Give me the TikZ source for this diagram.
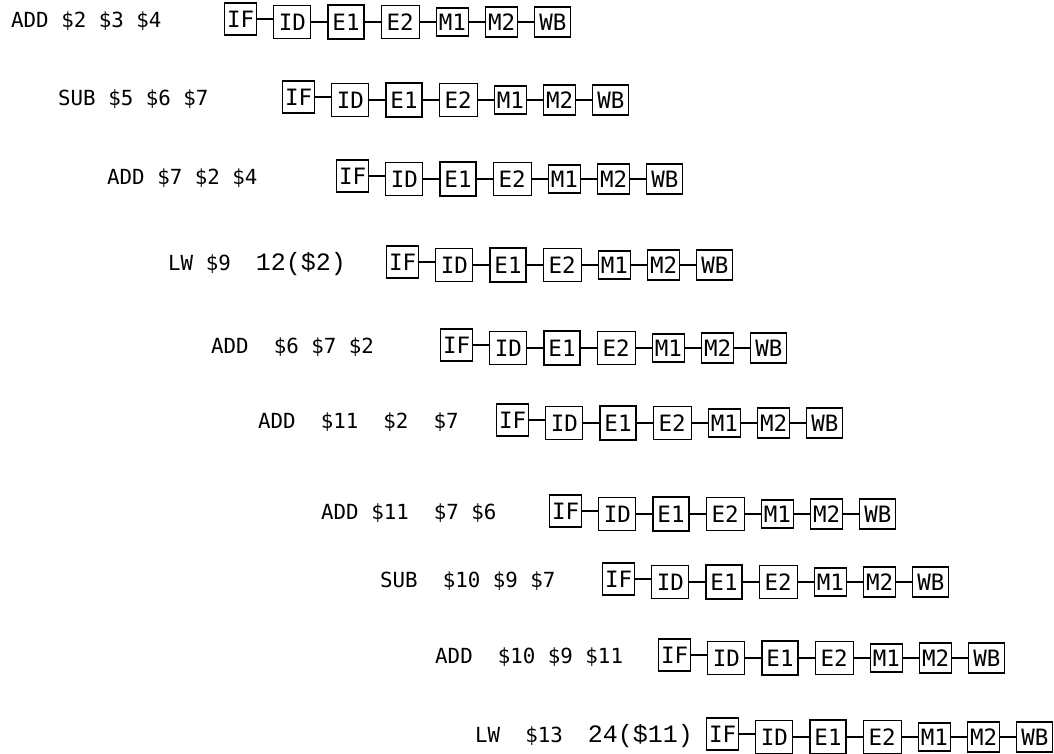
\documentclass[tikz,border=0pt]{standalone}
\usepackage{fontspec}
\setmonofont{DejaVu Sans Mono}
\newfontfamily\addrfont{Liberation Mono}
\usetikzlibrary{positioning}

\newcommand\addrtext[1]{{\addrfont\fontsize{25}{26}\selectfont #1}}

\begin{document}
\begin{tikzpicture}[x=1pt, y=-1pt,
  stage/.style={draw, line width=1.2pt, inner sep=0pt, minimum height=32pt,
                font=\ttfamily\fontsize{22.5}{24}\selectfont},
  instr/.style={anchor=west, inner sep=0pt, text height=15pt, text depth=0pt,
                font=\ttfamily\fontsize{20.8}{22}\selectfont},
  link/.style={line width=1.2pt},
  node distance=16pt]
\useasboundingbox (0,0) rectangle (1054,754);
\foreach \r/\tx/\ty/\ix/\txt in {
    1/11/20/224/{ADD~\$2~\$3~\$4},
    2/58/98/282/{SUB~\$5~\$6~\$7},
    3/107/177/336/{ADD~\$7~\$2~\$4},
    4/168/263/386/{LW~\$9~~\addrtext{12(\$2)}},
    5/211/346/440/{ADD~~\$6~\$7~\$2},
    6/258/421/496/{ADD~~\$11~~\$2~~\$7},
    7/321/512/549/{ADD~\$11~~\$7~\$6},
    8/380/580/602/{SUB~~\$10~\$9~\$7},
    9/435/656/658/{ADD~~\$10~\$9~\$11},
    10/475/735/706/{LW~~\$13~~\addrtext{24(\$11)}}} {
  \node[instr] (ins\r) at (\tx,\ty) {\txt};
  % pipeline stages of this instruction
  \node[stage, minimum width=32pt, anchor=west] (if\r) at (\ix,\ty-1) {IF};
  \node[stage, minimum width=37pt, minimum height=33pt, right=of if\r, yshift=-3pt] (id\r) {ID};
  \node[stage, minimum width=36pt, minimum height=34pt, right=of id\r] (ea\r) {E1};
  \node[stage, minimum width=38pt, minimum height=33pt, right=of ea\r] (eb\r) {E2};
  \node[stage, minimum width=32pt, minimum height=28pt, right=of eb\r] (ma\r) {M1};
  \node[stage, minimum width=32pt, minimum height=30pt, right=of ma\r] (mb\r) {M2};
  \node[stage, minimum width=36pt, minimum height=30pt, right=of mb\r] (wb\r) {WB};
  \draw[link] (if\r) -- (if\r -| id\r.west);
  \draw[link] (id\r) -- (ea\r);
  \draw[link] (ea\r) -- (eb\r);
  \draw[link] (eb\r) -- (ma\r);
  \draw[link] (ma\r) -- (mb\r);
  \draw[link] (mb\r) -- (wb\r);
}
\end{tikzpicture}
\end{document}
